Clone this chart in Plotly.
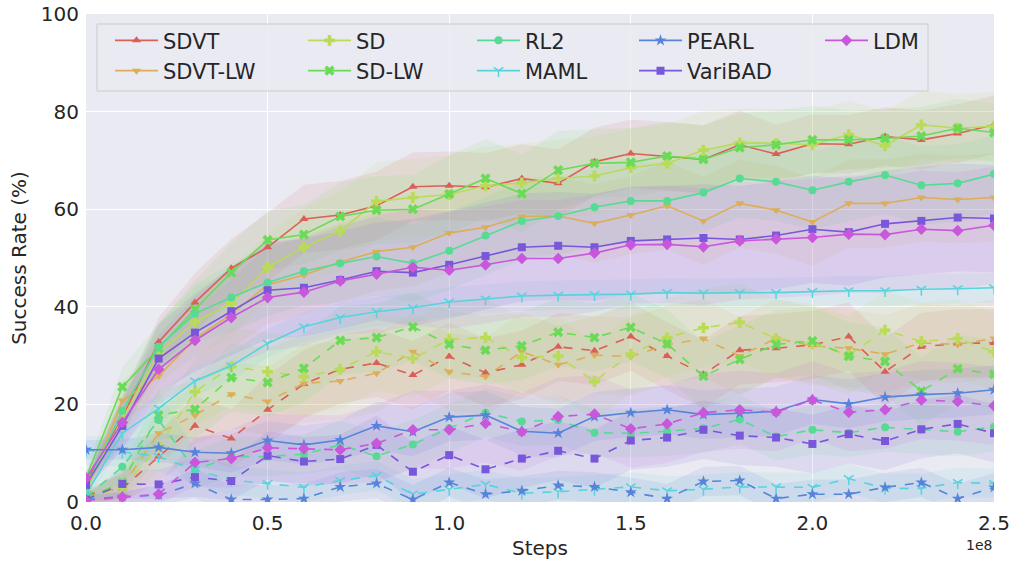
import plotly.graph_objects as go

steps = [0.0, 0.1, 0.2, 0.3, 0.4, 0.5, 0.6, 0.7, 0.8, 0.9, 1.0, 1.1, 1.2,
         1.3, 1.4, 1.5, 1.6, 1.7, 1.8, 1.9, 2.0, 2.1, 2.2, 2.3, 2.4, 2.5]  # x 1e8

methods = ["SDVT", "SDVT-LW", "SD", "SD-LW", "RL2", "MAML", "PEARL", "VariBAD", "LDM"]
colors = ["#db5f57", "#dbae57", "#b9db57", "#69db57", "#57db94",
          "#57d3db", "#5784db", "#7957db", "#c957db"]
symbols = ["triangle-up", "triangle-down", "cross", "x", "circle",
           "y-down", "star", "square", "diamond"]

# solid-line means
sdvt_solid = [4.0, 17.3, 32.8, 40.9, 47.9, 52.2, 58.0, 58.8, 60.7, 64.6, 64.8, 64.5, 66.3,
              65.3, 69.7, 71.4, 70.8, 70.2, 73.2, 71.3, 73.4, 73.3, 74.9, 74.2, 75.5, 77.3]
sdvtlw_solid = [2.0, 20.8, 25.8, 33.5, 38.5, 44.5, 46.5, 49.2, 51.3, 52.2, 55.1, 56.3, 58.5,
                58.6, 57.1, 58.8, 60.7, 57.6, 61.2, 59.8, 57.4, 61.2, 61.2, 62.4, 62.0, 62.4]
sd_solid = [3.0, 17.0, 30.5, 36.9, 40.7, 48.1, 52.2, 55.5, 61.6, 62.4, 63.0, 64.8, 65.4,
            66.3, 66.8, 68.5, 69.4, 72.1, 73.6, 73.5, 73.2, 75.3, 73.0, 77.3, 76.6, 77.0]
sdlw_solid = [5.0, 23.6, 31.5, 39.5, 47.0, 53.7, 54.8, 58.5, 59.8, 60.0, 63.1, 66.3, 63.2,
              68.0, 69.4, 69.6, 70.9, 70.2, 72.6, 73.2, 74.2, 74.2, 74.5, 75.0, 76.6, 75.7]
rl2_solid = [3.0, 18.7, 31.8, 38.6, 41.9, 45.0, 47.3, 48.9, 50.3, 48.9, 51.5, 54.6, 57.6,
             58.6, 60.4, 61.7, 61.7, 63.4, 66.3, 65.6, 63.9, 65.6, 67.0, 64.9, 65.3, 67.2]
maml_solid = [1.5, 14.1, 19.2, 24.8, 27.9, 32.5, 35.9, 37.8, 39.0, 39.8, 41.0, 41.6, 42.2,
              42.4, 42.5, 42.6, 42.9, 42.8, 42.9, 42.9, 43.1, 43.3, 43.3, 43.6, 43.7, 43.9]
pearl_solid = [10.7, 10.7, 11.2, 10.2, 10.0, 12.6, 11.7, 12.7, 15.6, 14.4, 17.4, 17.8, 14.5,
               14.1, 17.5, 18.3, 18.9, 17.9, 18.2, 18.6, 21.0, 20.1, 21.5, 22.0, 22.3, 23.0]
varibad_solid = [3.5, 15.6, 29.4, 34.7, 39.1, 43.4, 43.9, 45.5, 47.3, 47.0, 48.6, 50.4, 52.2,
                 52.5, 52.2, 53.5, 53.8, 54.1, 53.8, 54.6, 55.9, 55.3, 57.0, 57.6, 58.3, 58.1]
ldm_solid = [4.9, 16.3, 27.2, 33.1, 37.8, 41.9, 43.0, 45.3, 46.7, 48.1, 47.5, 48.6, 49.9,
             49.9, 51.0, 52.7, 52.8, 52.3, 53.5, 53.9, 54.2, 54.9, 54.8, 55.9, 55.6, 56.7]

# dashed-line means
sdvt_dash = [1.5, 2.8, 9.3, 15.6, 13.0, 18.9, 24.2, 27.2, 28.5, 26.0, 29.8, 26.5, 28.1,
             31.8, 31.0, 33.9, 29.9, 26.2, 31.1, 31.5, 32.2, 33.9, 26.7, 31.8, 32.5, 32.6]
sdvtlw_dash = [1.0, 3.2, 14.1, 17.8, 22.1, 20.6, 24.3, 24.8, 26.4, 30.8, 26.7, 25.7, 30.8,
               28.1, 30.1, 29.8, 32.2, 33.5, 29.9, 33.5, 32.0, 31.5, 30.3, 32.6, 32.3, 33.5]
sd_dash = [0.8, 2.9, 11.3, 22.6, 27.7, 26.7, 25.7, 27.2, 30.8, 29.4, 33.3, 33.7, 29.6,
           29.9, 24.7, 30.3, 33.7, 35.7, 36.8, 33.5, 32.5, 30.1, 35.2, 32.9, 33.5, 30.8]
sdlw_dash = [0.8, 4.0, 17.8, 19.0, 25.5, 24.5, 27.4, 33.1, 33.7, 35.9, 32.3, 31.1, 32.0,
             34.8, 33.7, 35.8, 32.4, 25.8, 29.2, 32.3, 33.0, 29.9, 28.8, 22.7, 27.3, 26.2]
rl2_dash = [1.0, 7.2, 16.8, 6.6, 9.3, 9.3, 9.8, 11.7, 9.4, 11.8, 15.1, 18.3, 16.5,
            16.8, 14.2, 14.1, 14.5, 15.1, 16.9, 13.4, 14.8, 14.2, 15.3, 14.8, 14.4, 15.4]
maml_dash = [10.5, 10.3, 9.3, 6.6, 4.5, 3.8, 3.0, 4.4, 5.4, 1.6, 2.6, 3.6, 1.8,
             2.1, 2.6, 3.1, 2.3, 2.6, 3.1, 3.1, 3.0, 4.8, 2.8, 2.8, 4.0, 3.8]
pearl_dash = [0.5, 1.1, 1.4, 3.8, 0.5, 0.5, 0.7, 3.1, 3.8, 0.5, 4.0, 1.6, 2.3,
              3.4, 3.1, 2.0, 0.7, 4.2, 4.4, 0.7, 1.6, 1.6, 3.0, 4.0, 0.7, 3.0]
varibad_dash = [0.5, 3.7, 3.6, 5.1, 4.3, 9.5, 8.3, 8.8, 11.7, 6.2, 9.6, 6.7, 8.9,
                10.5, 8.9, 12.6, 13.2, 14.8, 13.6, 13.2, 11.9, 13.9, 12.5, 14.9, 16.0, 14.1]
ldm_dash = [0.3, 1.0, 1.6, 8.1, 8.9, 11.1, 10.9, 10.7, 12.0, 14.8, 14.8, 16.1, 14.4,
            17.5, 18.0, 15.0, 16.0, 18.3, 18.9, 18.4, 20.9, 18.4, 18.9, 20.9, 20.6, 19.7]

# shaded spread (half-width) around each mean
sdvt_solid_sd = [1.5, 4, 5, 6, 6, 7, 7, 7, 7, 7, 7, 7, 7, 7, 7, 7, 7, 7, 7, 6, 6, 6, 6, 6, 6, 6]
sdvtlw_solid_sd = [1, 4, 5, 6, 7, 8, 8, 8, 8, 8, 8, 8, 8, 8, 8, 8, 9, 9, 9, 9, 9, 9, 9, 9, 9, 9]
sd_solid_sd = [1.5, 5, 6, 7, 7, 7, 8, 8, 8, 8, 8, 8, 8, 8, 8, 8, 8, 8, 7, 7, 7, 7, 7, 7, 7, 7]
sdlw_solid_sd = [1.5, 4, 5, 6, 6, 6, 6, 7, 7, 7, 8, 8, 8, 8, 7, 7, 7, 7, 7, 7, 7, 6, 6, 6, 6, 6]
rl2_solid_sd = [1, 4, 5, 6, 7, 7, 7, 8, 8, 8, 8, 8, 8, 8, 8, 8, 8, 8, 8, 8, 8, 8, 8, 8, 8, 8]
maml_solid_sd = [1, 3, 3, 3, 3, 3, 3, 3, 3, 3, 3, 3, 3, 3, 3, 3, 3, 3, 3, 3, 3, 3, 3, 3, 3, 3]
pearl_solid_sd = [2, 2, 3, 3, 4, 4, 4, 4, 5, 5, 5, 5, 5, 5, 5, 5, 5, 5, 5, 5, 5, 5, 5, 5, 5, 5]
varibad_solid_sd = [1, 5, 7, 8, 9, 10, 10, 10, 10, 11, 11, 11, 11, 11, 11, 11, 11, 11, 11, 11, 11, 11, 11, 11, 11, 11]
ldm_solid_sd = [1, 5, 7, 9, 10, 11, 11, 11, 12, 12, 12, 12, 12, 12, 12, 12, 12, 12, 12, 12, 12, 12, 12, 12, 12, 12]
sdvt_dash_sd = [1, 3, 5, 6, 6, 7, 7, 7, 7, 7, 7, 7, 7, 7, 7, 7, 7, 7, 7, 7, 7, 7, 7, 7, 7, 7]
sdvtlw_dash_sd = [1, 3, 5, 6, 7, 7, 8, 8, 8, 8, 8, 8, 8, 8, 8, 8, 8, 8, 8, 8, 8, 8, 8, 8, 8, 8]
sd_dash_sd = [1, 3, 5, 7, 8, 8, 8, 8, 8, 8, 8, 8, 8, 8, 8, 8, 8, 8, 8, 8, 8, 8, 8, 8, 8, 8]
sdlw_dash_sd = [1, 3, 5, 6, 7, 7, 7, 7, 7, 7, 7, 7, 7, 7, 7, 7, 7, 7, 7, 7, 7, 7, 7, 7, 7, 7]
rl2_dash_sd = [1, 3, 6, 4, 4, 4, 4, 5, 5, 5, 5, 5, 5, 5, 5, 5, 5, 5, 5, 5, 5, 5, 5, 5, 5, 5]
maml_dash_sd = [3, 3, 3, 3, 3, 3, 3, 3, 3, 3, 3, 3, 3, 3, 3, 3, 3, 3, 3, 3, 3, 3, 3, 3, 3, 3]
pearl_dash_sd = [1, 1, 2, 3, 3, 3, 3, 3, 3, 3, 3, 3, 3, 3, 3, 3, 3, 3, 3, 3, 3, 3, 3, 3, 3, 3]
varibad_dash_sd = [1, 3, 3, 4, 4, 5, 5, 5, 6, 6, 6, 6, 6, 6, 6, 6, 6, 6, 6, 6, 6, 6, 6, 6, 6, 6]
ldm_dash_sd = [1, 1, 2, 5, 6, 7, 7, 7, 8, 8, 8, 8, 8, 8, 8, 8, 8, 8, 8, 8, 8, 8, 8, 8, 8, 8]

solid = [sdvt_solid, sdvtlw_solid, sd_solid, sdlw_solid, rl2_solid,
         maml_solid, pearl_solid, varibad_solid, ldm_solid]
dashed = [sdvt_dash, sdvtlw_dash, sd_dash, sdlw_dash, rl2_dash,
          maml_dash, pearl_dash, varibad_dash, ldm_dash]
solid_sd = [sdvt_solid_sd, sdvtlw_solid_sd, sd_solid_sd, sdlw_solid_sd, rl2_solid_sd,
            maml_solid_sd, pearl_solid_sd, varibad_solid_sd, ldm_solid_sd]
dashed_sd = [sdvt_dash_sd, sdvtlw_dash_sd, sd_dash_sd, sdlw_dash_sd, rl2_dash_sd,
             maml_dash_sd, pearl_dash_sd, varibad_dash_sd, ldm_dash_sd]


def rgba(hexc, a):
    h = hexc.lstrip("#")
    return "rgba(%d,%d,%d,%s)" % (int(h[0:2], 16), int(h[2:4], 16), int(h[4:6], 16), a)


FONT = "DejaVu Sans"
TXT = "#262626"
L, R, T, B = 86, 20, 14, 61
W, H = 1014, 563
PW, PH = W - L - R, H - T - B

fig = go.Figure()

# bands
for k in range(len(methods)):
    for mean, sd in ((solid[k], solid_sd[k]), (dashed[k], dashed_sd[k])):
        up = [m + s for m, s in zip(mean, sd)]
        lo = [m - s for m, s in zip(mean, sd)]
        fig.add_trace(go.Scatter(
            x=steps + steps[::-1], y=up + lo[::-1], fill="toself",
            fillcolor=rgba(colors[k], 0.11), line=dict(width=0),
            mode="lines", showlegend=False, hoverinfo="skip"))

# lines
ITEMW = 43
legend_cols_px = [164, 357, 526, 688, 874]
legend_rows_px = [40.7, 71.0]
for k, name in enumerate(methods):
    msize = 9 if symbols[k] in ("star", "diamond", "cross", "x") else 8
    mk = dict(symbol=symbols[k], size=msize, color=colors[k],
              line=dict(width=1.5 if symbols[k] == "y-down" else 0, color=colors[k]))
    lg = "legend" if k == 0 else "legend%d" % (k + 1)
    fig.add_trace(go.Scatter(
        x=steps, y=solid[k], mode="lines+markers", name=name,
        line=dict(color=colors[k], width=1.6), marker=mk,
        legend=lg, showlegend=True))
    fig.add_trace(go.Scatter(
        x=steps, y=dashed[k], mode="lines+markers", name=name,
        line=dict(color=colors[k], width=1.6, dash="dash"), marker=mk,
        showlegend=False))

layout_legends = {}
for k in range(len(methods)):
    col, row = k // 2, k % 2
    px_x = legend_cols_px[col] - (ITEMW + 11)
    px_y = legend_rows_px[row]
    key = "legend" if k == 0 else "legend%d" % (k + 1)
    layout_legends[key] = dict(
        x=(px_x - L) / PW, y=(H - B - px_y) / PH, xanchor="left", yanchor="middle",
        bgcolor="rgba(0,0,0,0)", borderwidth=0, itemwidth=ITEMW,
        font=dict(family=FONT, size=21, color=TXT))

# legend frame
bx0, bx1, by0, by1 = 97, 928, 24, 91
fig.add_shape(type="rect", xref="paper", yref="paper",
              x0=(bx0 - L) / PW, x1=(bx1 - L) / PW,
              y0=(H - B - by1) / PH, y1=(H - B - by0) / PH,
              fillcolor="rgba(234,234,242,0.8)", line=dict(color="#cccccc", width=1),
              layer="above")

fig.update_layout(
    width=W, height=H, margin=dict(l=L, r=R, t=T, b=B, autoexpand=False),
    paper_bgcolor="white", plot_bgcolor="#eaeaf2",
    font=dict(family=FONT, size=20, color=TXT),
    xaxis=dict(range=[0, 2.5], tickvals=[0, 0.5, 1.0, 1.5, 2.0, 2.5],
               ticktext=["0.0", "0.5", "1.0", "1.5", "2.0", "2.5"], automargin=False,
               showgrid=True, gridcolor="white", gridwidth=1.3, zeroline=False,
               showline=False, ticks="outside", ticklen=3, tickcolor="rgba(0,0,0,0)",
               title=dict(text="Steps", standoff=6, font=dict(size=20))),
    yaxis=dict(range=[0, 100], tickvals=[0, 20, 40, 60, 80, 100], automargin=False,
               showgrid=True, gridcolor="white", gridwidth=1.3, zeroline=False,
               showline=False, ticks="outside", ticklen=2, tickcolor="rgba(0,0,0,0)",
               title=dict(text="Success Rate (%)", standoff=8, font=dict(size=20))),
    annotations=[dict(text="1e8", xref="paper", yref="paper", x=1.0, y=-0.068,
                      xanchor="right", yanchor="top", showarrow=False,
                      font=dict(family=FONT, size=14, color=TXT))],
    **layout_legends,
)

fig.write_html("out.html")
